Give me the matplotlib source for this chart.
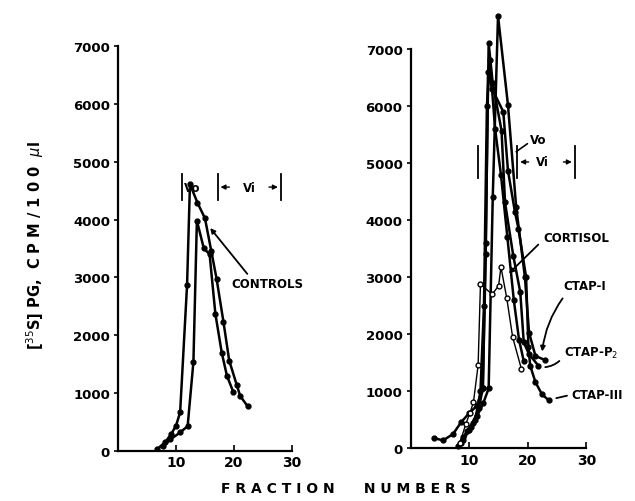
"""
Gel filtration profiles of [35S]PG: controls vs. treated cultures.
"""

import matplotlib
matplotlib.use("Agg")
import matplotlib.pyplot as plt

# --- Data ---

# left panel (controls)
ctrl_a_x = [6.7, 8.1, 9.2, 10.0, 10.7, 11.9, 12.4, 13.7, 15.0, 16.1, 17.0, 18.2, 19.2, 20.5, 21.1, 22.4]
ctrl_a_y = [30, 150, 300, 440, 670, 2870, 4610, 4290, 4020, 3450, 2980, 2230, 1560, 1140, 950, 770]

ctrl_b_x = [7.8, 9.0, 10.7, 12.0, 13.0, 13.6, 14.8, 15.8, 16.8, 17.9, 18.8, 19.9]
ctrl_b_y = [90, 200, 320, 430, 1540, 3980, 3500, 3400, 2370, 1700, 1300, 1020]

# right panel
cortisol_x = [8.4, 9.4, 10.1, 10.7, 11.5, 11.9, 13.9, 15.0, 15.4, 16.4, 17.4, 18.9]
cortisol_y = [100, 430, 620, 810, 1460, 2880, 2700, 2850, 3180, 2630, 1950, 1390]

ctap1_x = [8.0, 9.0, 10.2, 11.3, 12.4, 13.3, 14.0, 14.9, 16.6, 18.0, 19.5, 20.2, 21.3, 22.9]
ctap1_y = [50, 200, 380, 560, 800, 1050, 4400, 7580, 6020, 4230, 3000, 2030, 1620, 1550]

ctap2_x = [8.6, 9.6, 10.6, 11.6, 12.3, 12.8, 13.3, 14.0, 15.5, 16.1, 17.5, 18.7, 19.3, 20.2, 21.8]
ctap2_y = [100, 300, 450, 700, 1050, 3600, 7100, 6400, 5570, 4310, 3380, 2740, 1860, 1650, 1450]

ctap3_x = [4.0, 5.5, 7.2, 8.6, 10.0, 11.3, 12.3, 12.8, 13.2, 13.9, 15.8, 16.6, 17.8, 18.4,
           19.7, 20.1, 20.4, 21.3, 22.4, 23.6]
ctap3_y = [180, 140, 250, 460, 620, 750, 1050, 3400, 6600, 6300, 5900, 4870, 4140, 3850,
           3000, 1770, 1450, 1160, 950, 840]

other_x = [9.0, 10.0, 11.0, 11.9, 12.5, 13.0, 13.5, 14.4, 15.4, 16.5, 17.6, 18.5, 19.3]
other_y = [150, 320, 500, 1000, 2500, 6000, 6800, 5600, 4800, 3700, 2600, 1900, 1530]

Y_TICKS = [0, 1000, 2000, 3000, 4000, 5000, 6000, 7000]
X_TICKS = [10, 20, 30]

FONT = dict(fontweight="bold", family="DejaVu Sans")


def style_axis(ax):
    ax.set_xlim(0, 30)
    ax.set_ylim(0, 7000)
    for side in ("top", "right"):
        ax.spines[side].set_visible(False)
    for side in ("left", "bottom"):
        ax.spines[side].set_linewidth(1.6)
    ax.set_yticks(Y_TICKS)
    ax.set_yticklabels([str(v) for v in Y_TICKS], **FONT, fontsize=9.5)
    ax.set_xticks(X_TICKS)
    ax.set_xticklabels([str(v) for v in X_TICKS], **FONT, fontsize=10)
    ax.tick_params(axis="y", direction="out", length=3, width=1.2, pad=3)
    ax.tick_params(axis="x", direction="in", length=4, width=1.2, pad=3)
    ax.patch.set_alpha(0)


def void_markers(ax, x0, x1, x2, y, h=220):
    for xb in (x0, x1, x2):
        ax.plot([xb, xb], [y - h, y + h], color="black", lw=1.3, clip_on=False)
    ax.annotate("", xy=(x1, y), xytext=(x1 + 2.5, y),
                arrowprops=dict(arrowstyle="-|>", lw=1.0, color="black", mutation_scale=7))
    ax.annotate("", xy=(x2, y), xytext=(x2 - 2.5, y),
                arrowprops=dict(arrowstyle="-|>", lw=1.0, color="black", mutation_scale=7))
    ax.text((x1 + x2) / 2, y, "Vi", ha="center", va="center", fontsize=8.5, **FONT)


fig = plt.figure(figsize=(6.35, 5.02), dpi=100)

ax1 = fig.add_axes([0.1863, 0.0996, 0.273, 0.807])
ax2 = fig.add_axes([0.647, 0.1048, 0.2764, 0.7956])

# --- left panel ---
for xs, ys in ((ctrl_a_x, ctrl_a_y), (ctrl_b_x, ctrl_b_y)):
    ax1.plot(xs, ys, color="black", lw=1.8, marker="o", ms=3.5)
style_axis(ax1)
void_markers(ax1, 11.0, 17.2, 28.1, 4560)
ax1.text(11.4, 4560, "Vo", ha="left", va="center", fontsize=8.5, **FONT)
ax1.annotate("CONTROLS", xy=(15.6, 3890), xytext=(19.6, 2900), fontsize=8.5, **FONT,
             va="center", ha="left",
             arrowprops=dict(arrowstyle="-|>", lw=1.3, color="black", mutation_scale=7,
                             shrinkA=0, relpos=(0.25, 1.0)))

# --- right panel ---
for xs, ys in ((ctap1_x, ctap1_y), (ctap2_x, ctap2_y), (ctap3_x, ctap3_y), (other_x, other_y)):
    ax2.plot(xs, ys, color="black", lw=1.8, marker="o", ms=3.5, clip_on=False)
ax2.plot(cortisol_x, cortisol_y, color="black", lw=1.0, marker="o", ms=3.5,
         mfc="white", mec="black", mew=1.0, clip_on=False)
style_axis(ax2)

# void volume markers on the right
yb = 5020
for xb in (11.4, 18.2, 28.0):
    ax2.plot([xb, xb], [yb - 280, yb + 280], color="black", lw=1.3)
ax2.annotate("", xy=(18.2, yb), xytext=(20.6, yb),
             arrowprops=dict(arrowstyle="-|>", lw=1.0, color="black", mutation_scale=7))
ax2.annotate("", xy=(28.0, yb), xytext=(25.6, yb),
             arrowprops=dict(arrowstyle="-|>", lw=1.0, color="black", mutation_scale=7))
ax2.text(22.4, yb, "Vi", ha="center", va="center", fontsize=8.5, **FONT)
ax2.annotate("Vo", xy=(18.0, 5200), xytext=(20.4, 5420), fontsize=8.5, **FONT,
             va="center", ha="left",
             arrowprops=dict(arrowstyle="-", lw=1.2, color="black", shrinkA=0, shrinkB=0,
                             relpos=(0.0, 0.3)))

ax2.annotate("CORTISOL", xy=(16.4, 3030), xytext=(22.6, 3700), fontsize=8.5, **FONT,
             va="center", ha="left",
             arrowprops=dict(arrowstyle="-|>", lw=1.3, color="black", mutation_scale=7,
                             shrinkA=2, relpos=(0.0, 0.3)))
ax2.annotate("CTAP-I", xy=(22.4, 1650), xytext=(26.0, 2850), fontsize=8.5, **FONT,
             va="center", ha="left",
             arrowprops=dict(arrowstyle="-|>", lw=1.3, color="black", mutation_scale=7,
                             shrinkA=3, relpos=(0.1, 0.0),
                             connectionstyle="arc3,rad=0.15"))
ax2.annotate("CTAP-P$_2$", xy=(22.5, 1420), xytext=(26.2, 1680), fontsize=8.5, **FONT,
             va="center", ha="left",
             arrowprops=dict(arrowstyle="-", lw=1.3, color="black",
                             shrinkA=2, shrinkB=2, relpos=(0.0, 0.3),
                             connectionstyle="arc3,rad=-0.25"))
ax2.annotate("CTAP-III", xy=(24.4, 870), xytext=(27.4, 940), fontsize=8.5, **FONT,
             va="center", ha="left",
             arrowprops=dict(arrowstyle="-", lw=1.3, color="black", shrinkA=1, shrinkB=2,
                             relpos=(0.0, 0.5)))

# shared labels
fig.text(0.056, 0.51, "[$^{35}$S] PG,  C P M / 1 0 0  $\\mu$l", rotation=90, ha="center",
         va="center", fontsize=10.5, **FONT)
fig.text(0.545, 0.025, "F R A C T I O N      N U M B E R S", ha="center", va="center",
         fontsize=10, **FONT)

fig.savefig("out.png", dpi=100)
